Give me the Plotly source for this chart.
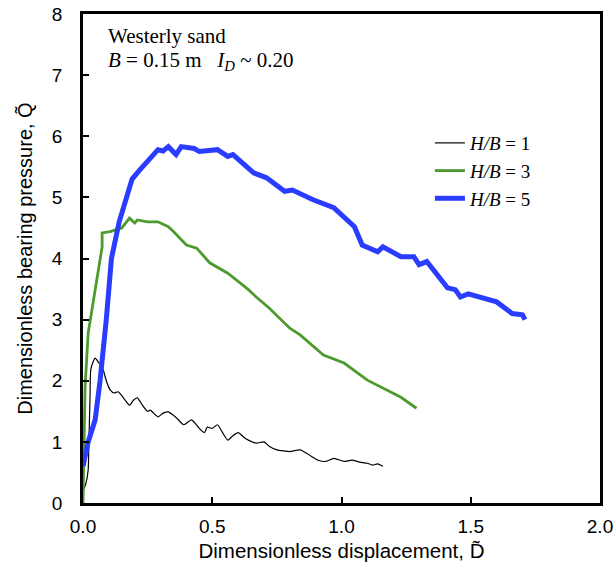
import plotly.graph_objects as go

# H/B = 1 (black)
d1 = [0.0, 0.01, 0.02, 0.023, 0.027, 0.03, 0.038, 0.047, 0.06, 0.078, 0.09, 0.105, 0.12, 0.136, 0.16, 0.18, 0.195, 0.21, 0.23, 0.25, 0.26, 0.29, 0.31, 0.33, 0.36, 0.39, 0.42, 0.45, 0.47, 0.48, 0.5, 0.52, 0.54, 0.56, 0.58, 0.6, 0.63, 0.67, 0.70, 0.72, 0.75, 0.78, 0.8, 0.84, 0.87, 0.91, 0.94, 0.97, 1.01, 1.04, 1.07, 1.1, 1.12, 1.14, 1.16]
q1 = [0.2, 0.3, 0.54, 1.03, 1.7, 2.18, 2.3, 2.37, 2.3, 2.18, 2.0, 1.85, 1.8, 1.82, 1.7, 1.6, 1.68, 1.72, 1.6, 1.5, 1.52, 1.41, 1.47, 1.49, 1.4, 1.28, 1.36, 1.22, 1.15, 1.24, 1.22, 1.28, 1.15, 1.03, 1.1, 1.15, 1.05, 0.98, 1.0, 0.93, 0.87, 0.85, 0.84, 0.87, 0.8, 0.7, 0.68, 0.73, 0.68, 0.7, 0.67, 0.65, 0.62, 0.64, 0.6]

# H/B = 3 (green)
d3 = [0.0, 0.004, 0.008, 0.02, 0.047, 0.066, 0.074, 0.074, 0.09, 0.105, 0.15, 0.18, 0.2, 0.21, 0.25, 0.29, 0.33, 0.35, 0.4, 0.44, 0.49, 0.56, 0.64, 0.67, 0.72, 0.8, 0.84, 0.91, 0.93, 1.01, 1.1, 1.23, 1.26, 1.29]
q3 = [0.0, 1.0, 1.9, 2.78, 3.49, 3.93, 4.19, 4.42, 4.43, 4.44, 4.5, 4.66, 4.58, 4.63, 4.6, 4.6, 4.52, 4.44, 4.22, 4.17, 3.93, 3.76, 3.49, 3.37, 3.19, 2.86, 2.75, 2.5, 2.42, 2.29, 2.01, 1.73, 1.64, 1.55]

# H/B = 5 (blue)
d5 = [0.0, 0.02, 0.047, 0.066, 0.09, 0.11, 0.14, 0.17, 0.19, 0.22, 0.29, 0.31, 0.33, 0.36, 0.38, 0.43, 0.45, 0.52, 0.56, 0.58, 0.62, 0.66, 0.71, 0.78, 0.81, 0.86, 0.89, 0.97, 1.05, 1.08, 1.14, 1.16, 1.23, 1.28, 1.30, 1.33, 1.41, 1.44, 1.46, 1.49, 1.53, 1.60, 1.66, 1.70, 1.71]
q5 = [0.6, 1.0, 1.36, 2.0, 3.0, 4.0, 4.6, 5.0, 5.3, 5.45, 5.78, 5.76, 5.83, 5.70, 5.83, 5.80, 5.75, 5.78, 5.67, 5.70, 5.55, 5.40, 5.32, 5.10, 5.12, 5.02, 4.96, 4.83, 4.52, 4.22, 4.11, 4.19, 4.03, 4.03, 3.90, 3.95, 3.52, 3.49, 3.37, 3.42, 3.37, 3.29, 3.10, 3.08, 3.0]

x_ticks = [0.0, 0.5, 1.0, 1.5, 2.0]
x_tick_text = ["0.0", "0.5", "1.0", "1.5", "2.0"]
y_ticks = [0, 1, 2, 3, 4, 5, 6, 7, 8]

serif = "Liberation Serif, Times New Roman, serif"
sans = "Liberation Sans, Arial, sans-serif"

fig = go.Figure()
fig.add_trace(go.Scatter(x=d1, y=q1, mode="lines", name="<i>H/B</i> = 1",
                         line=dict(color="black", width=1.2, shape="spline", smoothing=0.6)))
fig.add_trace(go.Scatter(x=d3, y=q3, mode="lines", name="<i>H/B</i> = 3",
                         line=dict(color="#4d9a2e", width=2.8)))
fig.add_trace(go.Scatter(x=d5, y=q5, mode="lines", name="<i>H/B</i> = 5",
                         line=dict(color="#2a3cff", width=5)))

fig.update_layout(
    width=616, height=571,
    margin=dict(l=83, r=16, t=14, b=68),
    paper_bgcolor="white", plot_bgcolor="white",
    showlegend=True,
    legend=dict(x=0.671, y=0.775, xanchor="left", yanchor="top",
                font=dict(family=serif, size=19, color="black"),
                bgcolor="rgba(0,0,0,0)", tracegroupgap=0, itemwidth=30),
    font=dict(family=sans, color="black"),
)
fig.update_xaxes(range=[0, 2.0], tickvals=x_ticks, ticktext=x_tick_text, automargin=False,
                 showline=True, linecolor="black", linewidth=2.5, mirror=True,
                 ticks="inside", ticklen=6, tickwidth=2, tickcolor="black",
                 showgrid=False, zeroline=False, tickfont=dict(size=19, family=sans),
                 ticklabelstandoff=4,
                 title=dict(text="Dimensionless displacement, D\u0303", font=dict(size=20.5, family=sans), standoff=9))
fig.update_yaxes(range=[0, 8], tickvals=y_ticks, automargin=False,
                 showline=True, linecolor="black", linewidth=2.5, mirror=True,
                 ticks="inside", ticklen=6, tickwidth=2, tickcolor="black",
                 showgrid=False, zeroline=False, tickfont=dict(size=19, family=sans),
                 ticklabelstandoff=14,
                 title=dict(text="Dimensionless bearing pressure, Q\u0303", font=dict(size=20, family=sans), standoff=14))

fig.add_annotation(xref="paper", yref="paper", x=0.044, y=0.955, xanchor="left", yanchor="middle",
                   text="Westerly sand", showarrow=False, font=dict(family=serif, size=21, color="black"))
fig.add_annotation(xref="paper", yref="paper", x=0.044, y=0.904, xanchor="left", yanchor="middle",
                   text="<i>B</i> = 0.15 m\u00a0\u00a0\u00a0<i>I<sub>D</sub></i> ~ 0.20", showarrow=False,
                   font=dict(family=serif, size=21, color="black"))

fig.write_html("out.html")
